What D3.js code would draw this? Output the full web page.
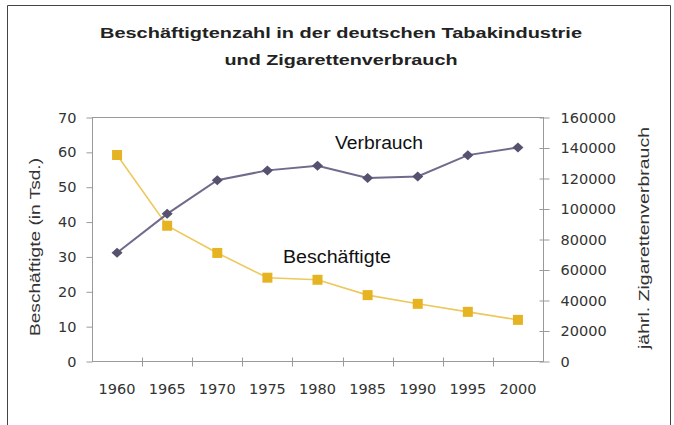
<!DOCTYPE html>
<html>
<head>
<meta charset="utf-8">
<script src="https://cdn.jsdelivr.net/npm/d3@7"></script>
<style>
  body { margin: 0; background: #fff; }
  svg text { font-family: "Liberation Sans", Arial, sans-serif; }
  svg .tick text { font-family: "DejaVu Sans", sans-serif; }
</style>
</head>
<body>
<svg id="chart" width="674" height="425"></svg>
<script>
// Daten
const years = ["1960","1965","1970","1975","1980","1985","1990","1995","2000"];
const beschaeftigte = [59.1, 38.8, 31.0, 23.9, 23.3, 18.9, 16.4, 14.1, 11.8];
const verbrauch = [71000, 96500, 118500, 125000, 128000, 120000, 121000, 135000, 140000];
const leftTicks = [0,10,20,30,40,50,60,70];
const rightTicks = [0,20000,40000,60000,80000,100000,120000,140000,160000];

const svg = d3.select("#chart");
const m = {l: 92, r: 543, t: 117, b: 361};

// Rahmen (unten abgeschnitten)
svg.append("path")
    .attr("d", "M7.5,430V5.5H670.5V430")
    .attr("fill", "none").attr("stroke", "#444").attr("stroke-width", 1);

// Titel – das Original ist etwas breit gezogen, daher textLength
const title = svg.append("text")
    .attr("text-anchor", "middle")
    .attr("font-weight", "bold").attr("font-size", 15.5).attr("fill", "#222");
title.append("tspan").attr("x", 341).attr("y", 38)
    .attr("textLength", 482).attr("lengthAdjust", "spacingAndGlyphs")
    .text("Beschäftigtenzahl in der deutschen Tabakindustrie");
title.append("tspan").attr("x", 341).attr("y", 65)
    .attr("textLength", 233).attr("lengthAdjust", "spacingAndGlyphs")
    .text("und Zigarettenverbrauch");

const x = d3.scaleBand().domain(years).range([m.l, m.r]);
const yL = d3.scaleLinear().domain([0, 70]).range([m.b, m.t]);
const yR = d3.scaleLinear().domain([0, 160000]).range([m.b, m.t]);

const grey = "#9a9a9a";

// Plotrahmen
svg.append("rect")
    .attr("x", m.l + 0.5).attr("y", m.t + 0.5)
    .attr("width", m.r - m.l).attr("height", m.b - m.t)
    .attr("fill", "none").attr("stroke", grey);

function styleAxis(g){
    g.select(".domain").remove();
    g.selectAll("line").attr("stroke", grey);
    g.selectAll("text").attr("fill", "#333").style("font-size", "14.5px");
}

// linke Achse
svg.append("g")
    .attr("transform", `translate(${m.l + 0.5},0.5)`)
    .call(d3.axisLeft(yL).tickValues(leftTicks).tickSize(6).tickPadding(10))
    .call(styleAxis);

// rechte Achse
svg.append("g")
    .attr("transform", `translate(${m.r + 0.5},0.5)`)
    .call(d3.axisRight(yR).tickValues(rightTicks).tickSize(6).tickPadding(11).tickFormat(d3.format("d")))
    .call(styleAxis)
    .call(g => g.selectAll("line").attr("x1", -4));

// x-Achse: Ticks zwischen den Kategorien
const xAxis = svg.append("g")
    .attr("transform", `translate(0,${m.b + 0.5})`)
    .call(d3.axisBottom(x).tickSize(0).tickPadding(22))
    .call(styleAxis);
xAxis.selectAll(".sep")
    .data(years.slice(1))
    .join("line")
    .attr("x1", d => Math.round(x(d)) + 0.5).attr("x2", d => Math.round(x(d)) + 0.5)
    .attr("y1", -4).attr("y2", 5)
    .attr("stroke", grey);

// Achsentitel
svg.append("text")
    .attr("transform", "translate(40,247) rotate(-90)")
    .attr("text-anchor", "middle").attr("font-size", 15).attr("fill", "#333")
    .attr("textLength", 178).attr("lengthAdjust", "spacingAndGlyphs")
    .text("Beschäftigte (in Tsd.)");
svg.append("text")
    .attr("transform", "translate(649,238) rotate(-90)")
    .attr("text-anchor", "middle").attr("font-size", 15).attr("fill", "#333")
    .attr("textLength", 222).attr("lengthAdjust", "spacingAndGlyphs")
    .text("jährl. Zigarettenverbrauch");

const cx = d => x(d) + x.bandwidth() / 2;

// Beschäftigte
svg.append("path")
    .datum(beschaeftigte)
    .attr("fill", "none").attr("stroke", "#edc85c").attr("stroke-width", 1.6)
    .attr("d", d3.line().x((d, i) => cx(years[i])).y(d => yL(d)));
svg.selectAll(".sq")
    .data(beschaeftigte)
    .join("rect")
    .attr("x", (d, i) => cx(years[i]) - 5).attr("y", d => yL(d) - 5)
    .attr("width", 10).attr("height", 10)
    .attr("fill", "#e6b422");

// Verbrauch
svg.append("path")
    .datum(verbrauch)
    .attr("fill", "none").attr("stroke", "#706a8c").attr("stroke-width", 2)
    .attr("d", d3.line().x((d, i) => cx(years[i])).y(d => yR(d)));
svg.selectAll(".dia")
    .data(verbrauch)
    .join("path")
    .attr("transform", (d, i) => `translate(${cx(years[i])},${yR(d)})`)
    .attr("d", "M0,-5L5.5,0L0,5L-5.5,0Z")
    .attr("fill", "#57506f");

// Beschriftungen
svg.append("text")
    .attr("x", 335).attr("y", 149)
    .attr("font-size", 17.5).attr("fill", "#111")
    .attr("textLength", 88).attr("lengthAdjust", "spacingAndGlyphs")
    .text("Verbrauch");
svg.append("text")
    .attr("x", 283).attr("y", 263)
    .attr("font-size", 17.5).attr("fill", "#111")
    .attr("textLength", 108).attr("lengthAdjust", "spacingAndGlyphs")
    .text("Beschäftigte");
</script>
</body>
</html>
